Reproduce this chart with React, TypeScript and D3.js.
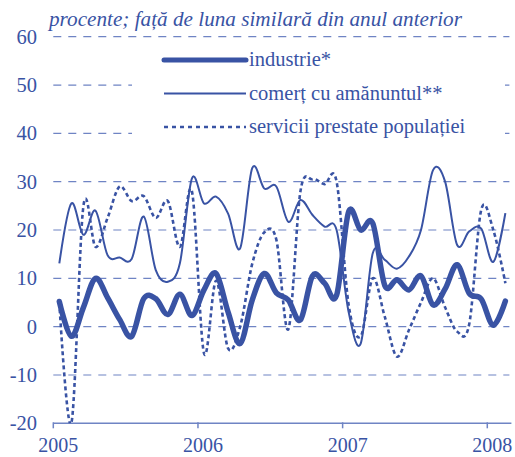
import React, { useEffect, useRef } from 'react';
import * as d3 from 'd3';

// monthly data, Jan 2005 - Feb 2008
const startYear = 2005;
const industrie = [
  5.2, -2, 4, 10, 6, 1.5, -2, 5.8, 5.8, 2.5, 6.7, 2.3,
  7.6, 11, 3, -3.5, 5.5, 11, 7, 5.5, 1.4, 10.5, 9, 6.5,
  23.8, 20, 21.4, 8.5, 9.7, 7.6, 10.5, 4.5, 7.8, 12.8, 6.9, 5.7,
  0.3, 5.3
];
const comert = [
  13.1, 25.5, 19, 24, 14.8, 14.3, 14, 22.8, 11.7, 9.3, 13.1, 30.7,
  25.5, 26.9, 23.4, 16.2, 32.8, 28.6, 29, 21.7, 26.2, 23.1, 20.7, 20,
  3, -3.5, 15.2, 13.8, 12, 14.5, 20, 32.4, 30, 16.9, 19.7, 20.3,
  13.4, 23.5
];
const servicii = [
  5, -20, 25, 16.5, 22.5, 29, 26, 27, 22.5, 26, 16.5, 28,
  -5.5, 9.5, -4.5, 0, 13, 19.5, 18, -0.5, 28, 30.5, 29.5, 30,
  4.5, -2, 10, 2, -6.2, -0.7, 5, 10, 4, -1, 0.5, 24.2,
  20, 9
];
const yTicks = [-20, -10, 0, 10, 20, 30, 40, 50, 60];
const xTicks = [2005, 2006, 2007, 2008];
const seriesNames = ['industrie*', 'comerț cu amănuntul**', 'servicii prestate populației'];
const title = 'procente; față de luna similară din anul anterior';

const blue = '#3953a4';
const gridBlue = '#6f84c4';

export default function App() {
  const ref = useRef<SVGSVGElement>(null);

  useEffect(() => {
    const svg = d3.select(ref.current);
    svg.selectAll('*').remove();

    const x = d3.scaleLinear().domain([2005, 2008 + 2 / 12]).range([53.3, 511.4]);
    const y = d3.scaleLinear().domain([-20, 60]).range([423.3, 36.7]);
    const font = '"Liberation Serif", "Times New Roman", serif';

    // title
    svg.append('text')
      .attr('x', 49).attr('y', 26)
      .attr('font-family', font).attr('font-style', 'italic')
      .attr('font-size', 21.2).attr('fill', blue)
      .text(title);

    // grid lines
    svg.append('g').selectAll('line')
      .data(yTicks.filter(d => d > -20))
      .enter().append('line')
      .attr('x1', x.range()[0]).attr('x2', x.range()[1] - 2)
      .attr('y1', d => y(d)).attr('y2', d => y(d))
      .attr('stroke', gridBlue).attr('stroke-width', 1.2)
      .attr('stroke-dasharray', '8,7');

    // y labels
    svg.append('g').selectAll('text')
      .data(yTicks)
      .enter().append('text')
      .attr('x', 37).attr('y', d => y(d) + 7)
      .attr('text-anchor', 'end')
      .attr('font-family', font).attr('font-size', 20.5).attr('fill', blue)
      .text(d => d);

    // x axis
    svg.append('line')
      .attr('x1', x.range()[0]).attr('x2', x.range()[1])
      .attr('y1', y(-20)).attr('y2', y(-20))
      .attr('stroke', gridBlue).attr('stroke-width', 1.5);
    svg.append('g').selectAll('line')
      .data(xTicks)
      .enter().append('line')
      .attr('x1', d => x(d)).attr('x2', d => x(d))
      .attr('y1', y(-20) - 1).attr('y2', y(-20) + 5)
      .attr('stroke', gridBlue).attr('stroke-width', 1.5);
    svg.append('g').selectAll('text')
      .data(xTicks)
      .enter().append('text')
      .attr('x', d => x(d) + 5).attr('y', 452)
      .attr('text-anchor', 'middle')
      .attr('font-family', font).attr('font-size', 20).attr('fill', blue)
      .text(d => d);

    // clip to plot area
    svg.append('clipPath').attr('id', 'plotClip')
      .append('rect')
      .attr('x', x.range()[0]).attr('y', y(60))
      .attr('width', x.range()[1] - x.range()[0])
      .attr('height', y(-20) - y(60));

    const monthX = (i: number) => x(startYear + (i + 0.5) / 12);
    const line = d3.line<number>()
      .x((d, i) => monthX(i))
      .y(d => y(d))
      .curve(d3.curveCardinal.tension(0));

    const plot = svg.append('g').attr('clip-path', 'url(#plotClip)');
    plot.append('path').datum(servicii)
      .attr('d', line).attr('fill', 'none')
      .attr('stroke', blue).attr('stroke-width', 2.6)
      .attr('stroke-dasharray', '4,3');
    plot.append('path').datum(comert)
      .attr('d', line).attr('fill', 'none')
      .attr('stroke', blue).attr('stroke-width', 2);
    plot.append('path').datum(industrie)
      .attr('d', line).attr('fill', 'none')
      .attr('stroke', blue).attr('stroke-width', 5.5)
      .attr('stroke-linecap', 'round');

    // legend
    const legend = svg.append('g');
    legend.append('rect')
      .attr('x', 132).attr('y', 44).attr('width', 373).attr('height', 96)
      .attr('fill', '#fff');
    const styles = [
      { w: 5, dash: null },
      { w: 2, dash: null },
      { w: 2.6, dash: '4,4' },
    ];
    const rows = legend.selectAll('g.row')
      .data(seriesNames)
      .enter().append('g')
      .attr('class', 'row')
      .attr('transform', (d, i) => `translate(0, ${60 + i * 33.5})`);
    rows.append('line')
      .attr('x1', 164).attr('x2', 246)
      .attr('stroke', blue)
      .attr('stroke-width', (d, i) => styles[i].w)
      .attr('stroke-linecap', (d, i) => (i === 0 ? 'round' : 'butt'))
      .attr('stroke-dasharray', (d, i) => styles[i].dash);
    rows.append('text')
      .attr('x', 249).attr('y', 6)
      .attr('font-family', font).attr('font-size', 20.5).attr('fill', blue)
      .text(d => d);
  }, []);

  return (
    <svg ref={ref} width={515} height={457}
      style={{ position: 'absolute', left: 0, top: 0, background: '#fff' }} />
  );
}
